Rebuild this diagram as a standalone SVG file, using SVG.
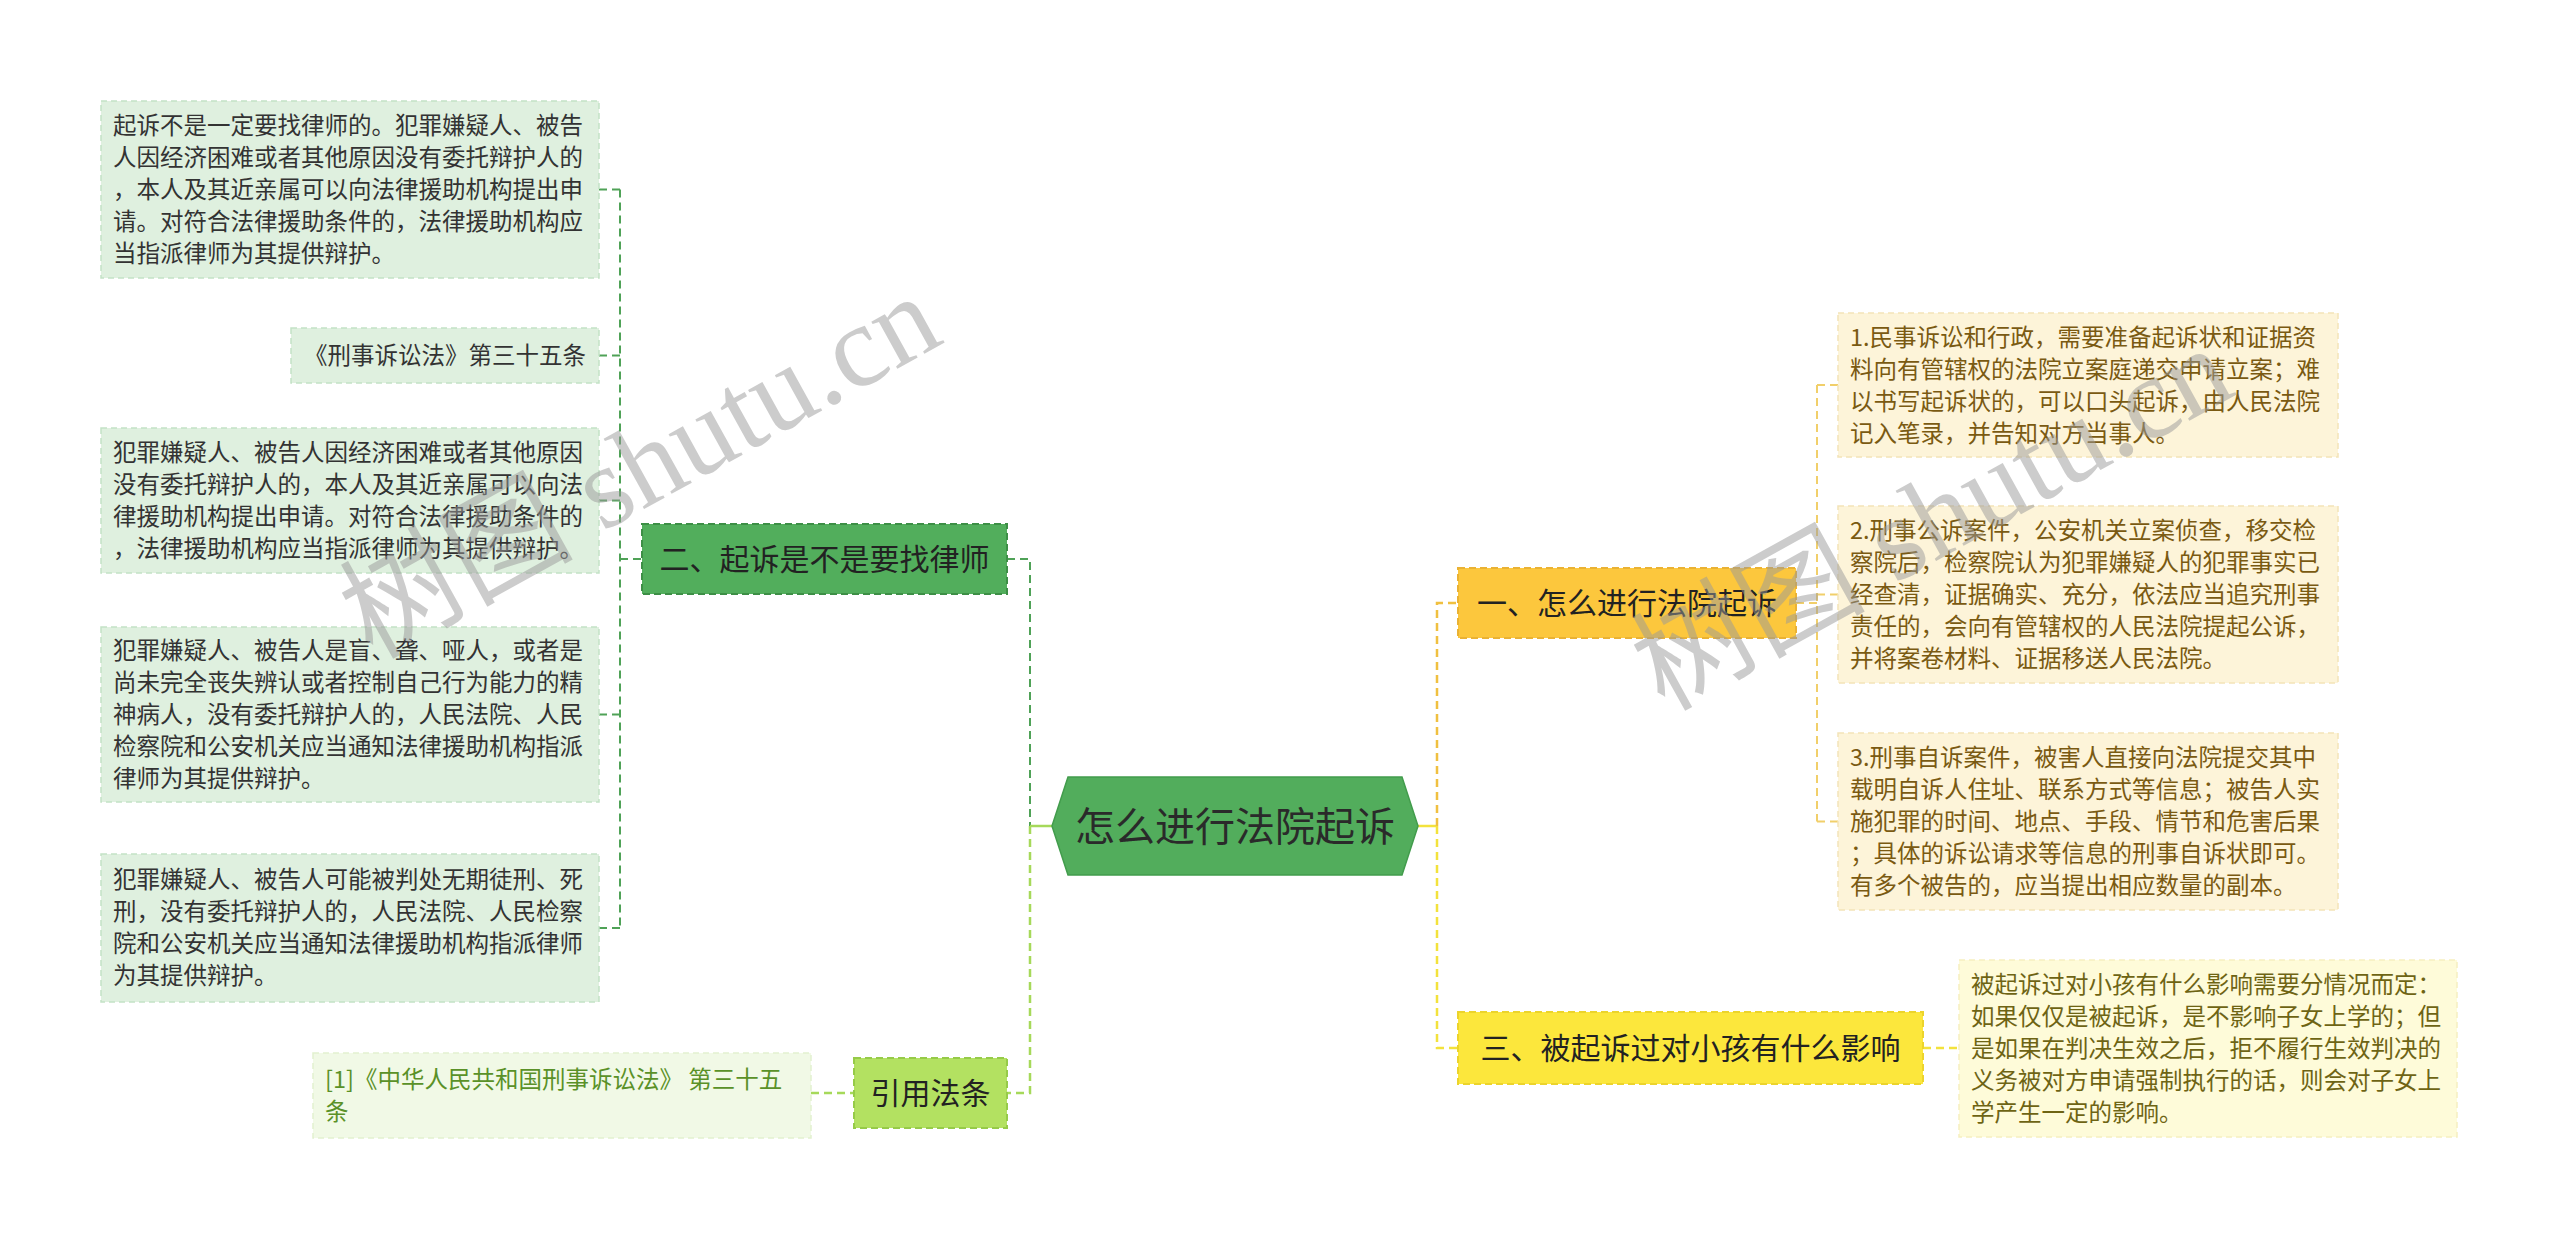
<svg xmlns="http://www.w3.org/2000/svg" width="2560" height="1239" viewBox="0 0 2560 1239">
<style>
.t{font-family:"Noto Sans CJK SC","Noto Sans",sans-serif;font-size:23.5px}
.n{font-family:"Noto Sans CJK SC","Noto Sans",sans-serif;font-size:30px;fill:#222}
.lg{fill:#dff0df;stroke:#c4e2c6;stroke-width:1.5;stroke-dasharray:6 4}
.lt{fill:#333}
.ry{fill:#fdf4d9;stroke:#f3e4b8;stroke-width:1.5;stroke-dasharray:6 4}
.rt{fill:#7a5a12}
.cg{fill:none;stroke:#4fa257;stroke-width:2;stroke-dasharray:8 5}
.cl{fill:none;stroke:#a6d95a;stroke-width:2.5;stroke-dasharray:8 5}
.co{fill:none;stroke:#f0c040;stroke-width:2.5;stroke-dasharray:8 5}
.cy{fill:none;stroke:#f3e23c;stroke-width:2.5;stroke-dasharray:8 5}
.cyo{fill:none;stroke:#f1cf6a;stroke-width:2;stroke-dasharray:8 5}
.wm{font-family:"Liberation Serif","Noto Sans CJK SC",serif;font-size:117px;fill:#9a9a9a;opacity:0.5}
</style>
<rect width="2560" height="1239" fill="#ffffff"/>
<g id="connectors">
<line x1="599" y1="189.5" x2="620" y2="189.5" class="cg"/>
<line x1="599" y1="355.5" x2="620" y2="355.5" class="cg"/>
<line x1="599" y1="500.5" x2="620" y2="500.5" class="cg"/>
<line x1="599" y1="714.5" x2="620" y2="714.5" class="cg"/>
<line x1="599" y1="928" x2="620" y2="928" class="cg"/>
<line x1="620" y1="189.5" x2="620" y2="928" class="cg"/>
<line x1="620" y1="559" x2="642" y2="559" class="cg"/>
<path d="M1007 559 H1030 V826" class="cg"/>
<path d="M1030 826 V1093 H1007" class="cl"/>
<line x1="1030" y1="826" x2="1052" y2="826" stroke="#a6d95a" stroke-width="2.5"/>
<line x1="811" y1="1093" x2="854" y2="1093" class="cl"/>
<line x1="1418" y1="826" x2="1437" y2="826" stroke="#f3e23c" stroke-width="2.5"/>
<path d="M1437 826 V603 H1458" class="co"/>
<path d="M1437 826 V1048 H1458" class="cy"/>
<path d="M1796 603 H1817" class="cyo"/>
<line x1="1817" y1="385" x2="1817" y2="821.5" class="cyo"/>
<line x1="1817" y1="385" x2="1838" y2="385" class="cyo"/>
<line x1="1817" y1="594.5" x2="1838" y2="594.5" class="cyo"/>
<line x1="1817" y1="821.5" x2="1838" y2="821.5" class="cyo"/>
<line x1="1923" y1="1048" x2="1959" y2="1048" class="cy"/>
</g>
<g id="center">
<polygon points="1052,826 1068,777 1402,777 1418,826 1402,875 1068,875" fill="#52ad5c" stroke="#429c4c" stroke-width="1.5"/>
<text x="1235" y="841" text-anchor="middle" font-family="Noto Sans CJK SC,sans-serif" font-size="40" fill="#2a2a2a">怎么进行法院起诉</text>
</g>
<g id="n2">
<rect x="642" y="524" width="365" height="70" fill="#52ae5c" stroke="#3d8f46" stroke-width="2" stroke-dasharray="7 4"/>
<text x="824.5" y="570" text-anchor="middle" class="n">二、起诉是不是要找律师</text>
</g>
<g id="b1">
<rect x="101" y="101" width="498" height="177" class="lg"/>
<text class="t lt"><tspan x="113" y="134">起诉不是一定要找律师的。犯罪嫌疑人、被告</tspan><tspan x="113" y="166">人因经济困难或者其他原因没有委托辩护人的</tspan><tspan x="113" y="198">，本人及其近亲属可以向法律援助机构提出申</tspan><tspan x="113" y="230">请。对符合法律援助条件的，法律援助机构应</tspan><tspan x="113" y="262">当指派律师为其提供辩护。</tspan></text>
</g>
<g id="b2">
<rect x="291" y="328" width="308" height="55" class="lg"/>
<text x="304" y="364" class="t lt">《刑事诉讼法》第三十五条</text>
</g>
<g id="b3">
<rect x="101" y="428" width="498" height="145" class="lg"/>
<text class="t lt"><tspan x="113" y="461">犯罪嫌疑人、被告人因经济困难或者其他原因</tspan><tspan x="113" y="493">没有委托辩护人的，本人及其近亲属可以向法</tspan><tspan x="113" y="525">律援助机构提出申请。对符合法律援助条件的</tspan><tspan x="113" y="557">，法律援助机构应当指派律师为其提供辩护。</tspan></text>
</g>
<g id="b4">
<rect x="101" y="627" width="498" height="175" class="lg"/>
<text class="t lt"><tspan x="113" y="659">犯罪嫌疑人、被告人是盲、聋、哑人，或者是</tspan><tspan x="113" y="691">尚未完全丧失辨认或者控制自己行为能力的精</tspan><tspan x="113" y="723">神病人，没有委托辩护人的，人民法院、人民</tspan><tspan x="113" y="755">检察院和公安机关应当通知法律援助机构指派</tspan><tspan x="113" y="787">律师为其提供辩护。</tspan></text>
</g>
<g id="b5">
<rect x="101" y="854" width="498" height="148" class="lg"/>
<text class="t lt"><tspan x="113" y="888">犯罪嫌疑人、被告人可能被判处无期徒刑、死</tspan><tspan x="113" y="920">刑，没有委托辩护人的，人民法院、人民检察</tspan><tspan x="113" y="952">院和公安机关应当通知法律援助机构指派律师</tspan><tspan x="113" y="984">为其提供辩护。</tspan></text>
</g>
<g id="n3">
<rect x="854" y="1058" width="153" height="70" fill="#b3e161" stroke="#96cb48" stroke-width="2" stroke-dasharray="7 4"/>
<text x="930.5" y="1104" text-anchor="middle" class="n">引用法条</text>
</g>
<g id="ref">
<rect x="313" y="1053" width="498" height="85" fill="#f1f9e6" stroke="#e2f1cf" stroke-width="1.5" stroke-dasharray="6 4"/>
<text class="t" fill="#5a9128"><tspan x="325" y="1088">[1]《中华人民共和国刑事诉讼法》 第三十五</tspan><tspan x="325" y="1120">条</tspan></text>
</g>
<g id="n1">
<rect x="1458" y="568" width="338" height="70" fill="#fcc73d" stroke="#eab234" stroke-width="2" stroke-dasharray="7 4"/>
<text x="1627" y="614" text-anchor="middle" class="n">一、怎么进行法院起诉</text>
</g>
<g id="ba">
<rect x="1838" y="313" width="500" height="144" class="ry"/>
<text class="t rt"><tspan x="1850" y="346">1.民事诉讼和行政，需要准备起诉状和证据资</tspan><tspan x="1850" y="378">料向有管辖权的法院立案庭递交申请立案；难</tspan><tspan x="1850" y="410">以书写起诉状的，可以口头起诉，由人民法院</tspan><tspan x="1850" y="442">记入笔录，并告知对方当事人。</tspan></text>
</g>
<g id="bb">
<rect x="1838" y="506" width="500" height="177" class="ry"/>
<text class="t rt"><tspan x="1850" y="539">2.刑事公诉案件，公安机关立案侦查，移交检</tspan><tspan x="1850" y="571">察院后，检察院认为犯罪嫌疑人的犯罪事实已</tspan><tspan x="1850" y="603">经查清，证据确实、充分，依法应当追究刑事</tspan><tspan x="1850" y="635">责任的，会向有管辖权的人民法院提起公诉，</tspan><tspan x="1850" y="667">并将案卷材料、证据移送人民法院。</tspan></text>
</g>
<g id="bc">
<rect x="1838" y="733" width="500" height="177" class="ry"/>
<text class="t rt"><tspan x="1850" y="766">3.刑事自诉案件，被害人直接向法院提交其中</tspan><tspan x="1850" y="798">载明自诉人住址、联系方式等信息；被告人实</tspan><tspan x="1850" y="830">施犯罪的时间、地点、手段、情节和危害后果</tspan><tspan x="1850" y="862">；具体的诉讼请求等信息的刑事自诉状即可。</tspan><tspan x="1850" y="894">有多个被告的，应当提出相应数量的副本。</tspan></text>
</g>
<g id="n4">
<rect x="1458" y="1012" width="465" height="72" fill="#fce73c" stroke="#ecd42c" stroke-width="2" stroke-dasharray="7 4"/>
<text x="1690.5" y="1059" text-anchor="middle" class="n">三、被起诉过对小孩有什么影响</text>
</g>
<g id="bd">
<rect x="1959" y="960" width="498" height="177" fill="#fefbd9" stroke="#f6f0c0" stroke-width="1.5" stroke-dasharray="6 4"/>
<text class="t" fill="#6e6414"><tspan x="1971" y="993">被起诉过对小孩有什么影响需要分情况而定：</tspan><tspan x="1971" y="1025">如果仅仅是被起诉，是不影响子女上学的；但</tspan><tspan x="1971" y="1057">是如果在判决生效之后，拒不履行生效判决的</tspan><tspan x="1971" y="1089">义务被对方申请强制执行的话，则会对子女上</tspan><tspan x="1971" y="1121">学产生一定的影响。</tspan></text>
</g>
<g id="watermarks">
<text x="372" y="660" class="wm" transform="rotate(-29 372 660)">树图 shutu.cn</text>
<text x="1664" y="712" class="wm" transform="rotate(-29 1664 712)">树图 shutu.cn</text>
</g>
</svg>
